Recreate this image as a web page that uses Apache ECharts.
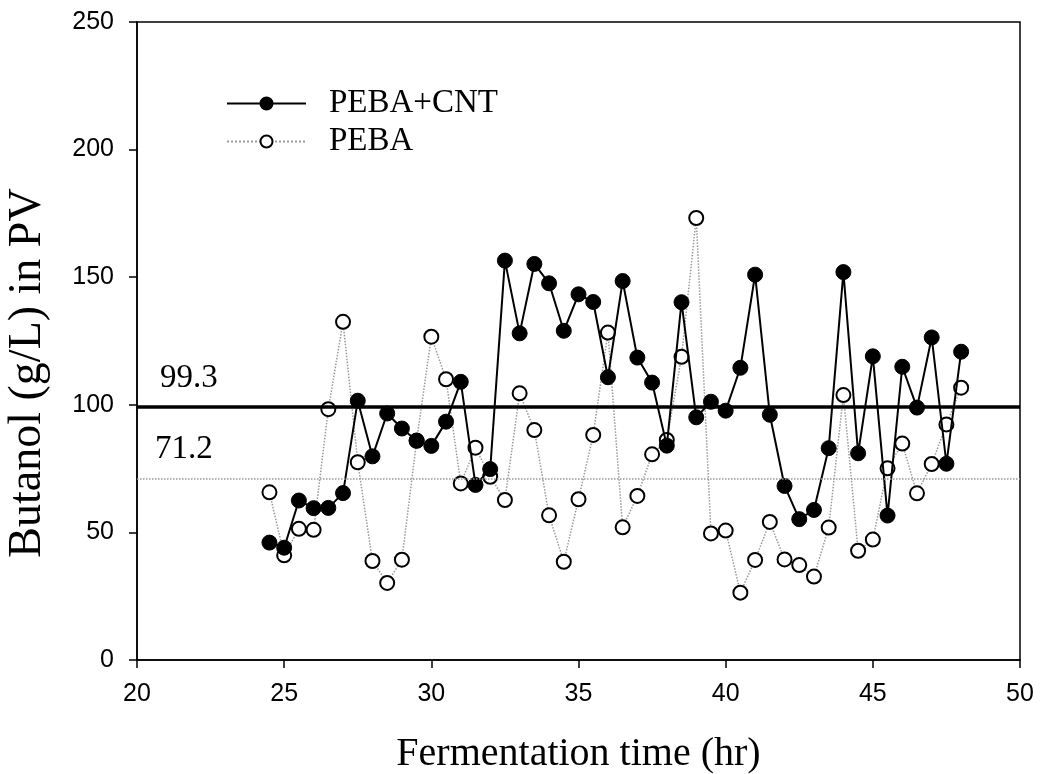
<!DOCTYPE html>
<html><head><meta charset="utf-8">
<script src="https://cdn.jsdelivr.net/npm/echarts@6/dist/echarts.min.js"></script>
<style>html,body{margin:0;padding:0;background:#fff}#c{width:1043px;height:774px}</style>
</head><body><div id="c"></div>
<script>
const times = [24.5,25,25.5,26,26.5,27,27.5,28,28.5,29,29.5,30,30.5,31,31.5,32,32.5,33,33.5,34,34.5,35,35.5,36,36.5,37,37.5,38,38.5,39,39.5,40,40.5,41,41.5,42,42.5,43,43.5,44,44.5,45,45.5,46,46.5,47,47.5,48];
const pebaCnt = [46,44,62.5,59.5,59.6,65.4,101.6,79.8,96.6,90.7,86,83.9,93.4,109,68.6,74.8,156.5,128,155.2,147.6,129,143.3,140.3,110.8,148.5,118.5,108.7,84,140.2,95.1,101.2,97.7,114.5,151,96.1,68.2,55.2,58.8,83,152,81,119,56.6,114.9,98.9,126.4,76.9,120.8];
const peba = [65.7,41,51.4,51,98.3,132.5,77.5,38.8,30.2,39.3,85.9,126.7,110,69.2,83.2,71.8,62.7,104.5,90.1,56.7,38.5,63,88.2,128.3,52,64.3,80.6,86.2,118.8,173.2,49.6,50.7,26.4,39.2,54.1,39.4,37.2,32.7,51.9,103.8,42.8,47.2,75.1,84.8,65.3,76.8,92.3,106.7];
const avgCnt = 99.3;
const avgPeba = 71.2;
const xTicks = [20,25,30,35,40,45,50];
const yTicks = [0,50,100,150,200,250];

const pair = (xs, ys) => xs.map((x, i) => [x, ys[i]]);
const serif = '"Liberation Serif","Times New Roman",serif';
const sans = '"Liberation Sans",Arial,sans-serif';

const chart = echarts.init(document.getElementById('c'), null, {renderer: 'canvas'});
chart.setOption({
  animation: false,
  backgroundColor: '#fff',
  grid: {left: 137, right: 23, top: 22, bottom: 114, containLabel: false, outerBoundsMode: 'none',
         show: true, borderColor: '#000', borderWidth: 1.5, backgroundColor: 'transparent'},
  legend: {
    left: 226, top: 87, padding: 0, orient: 'vertical', itemWidth: 79, itemHeight: 15, itemGap: 5,
    textStyle: {fontFamily: serif, fontSize: 33, color: '#000', lineHeight: 33, padding: [0, 0, 0, 18]},
    data: ['PEBA+CNT', 'PEBA']
  },
  xAxis: {
    type: 'value', min: xTicks[0], max: xTicks[xTicks.length - 1], interval: 5,
    name: 'Fermentation time (hr)', nameLocation: 'middle', nameGap: 74,
    nameTextStyle: {fontFamily: serif, fontSize: 40, color: '#000'},
    axisLine: {lineStyle: {color: '#000', width: 1.5}},
    axisTick: {show: true, inside: false, length: 8, lineStyle: {color: '#000', width: 1.5}},
    axisLabel: {fontFamily: sans, fontSize: 25, color: '#000', margin: 22},
    splitLine: {show: false}
  },
  yAxis: {
    type: 'value', min: yTicks[0], max: yTicks[yTicks.length - 1], interval: 50,
    name: 'Butanol (g/L) in PV', nameLocation: 'middle', nameGap: 86,
    nameTextStyle: {fontFamily: serif, fontSize: 46, color: '#000', padding: [0, 64, 0, 0]},
    axisLine: {lineStyle: {color: '#000', width: 1.5}},
    axisTick: {show: true, inside: false, length: 8, lineStyle: {color: '#000', width: 1.5}},
    axisLabel: {fontFamily: sans, fontSize: 25, color: '#000', margin: 23},
    splitLine: {show: false}
  },
  series: [
    {
      name: 'PEBA', type: 'line', data: pair(times, peba), z: 2,
      symbol: 'circle', symbolSize: 14,
      itemStyle: {color: '#fff', borderColor: '#000', borderWidth: 2},
      lineStyle: {color: '#999', width: 1.5, type: 'dotted'},
      markLine: {
        silent: true, symbol: 'none',
        lineStyle: {color: '#999', width: 1.5, type: 'dotted'},
        label: {show: true, position: 'insideStartTop', distance: [18, 12], formatter: String(avgPeba), fontFamily: serif, fontSize: 33, color: '#000'},
        data: [{yAxis: avgPeba}]
      }
    },
    {
      name: 'PEBA+CNT', type: 'line', data: pair(times, pebaCnt), z: 3,
      symbol: 'circle', symbolSize: 15,
      itemStyle: {color: '#000', borderColor: '#000', borderWidth: 1},
      lineStyle: {color: '#000', width: 2, type: 'solid'},
      markLine: {
        silent: true, symbol: 'none',
        lineStyle: {color: '#000', width: 3.5, type: 'solid'},
        label: {show: true, position: 'insideStartTop', distance: [23, 12], formatter: String(avgCnt), fontFamily: serif, fontSize: 33, color: '#000'},
        data: [{yAxis: avgCnt}]
      }
    }
  ]
});
</script></body></html>
